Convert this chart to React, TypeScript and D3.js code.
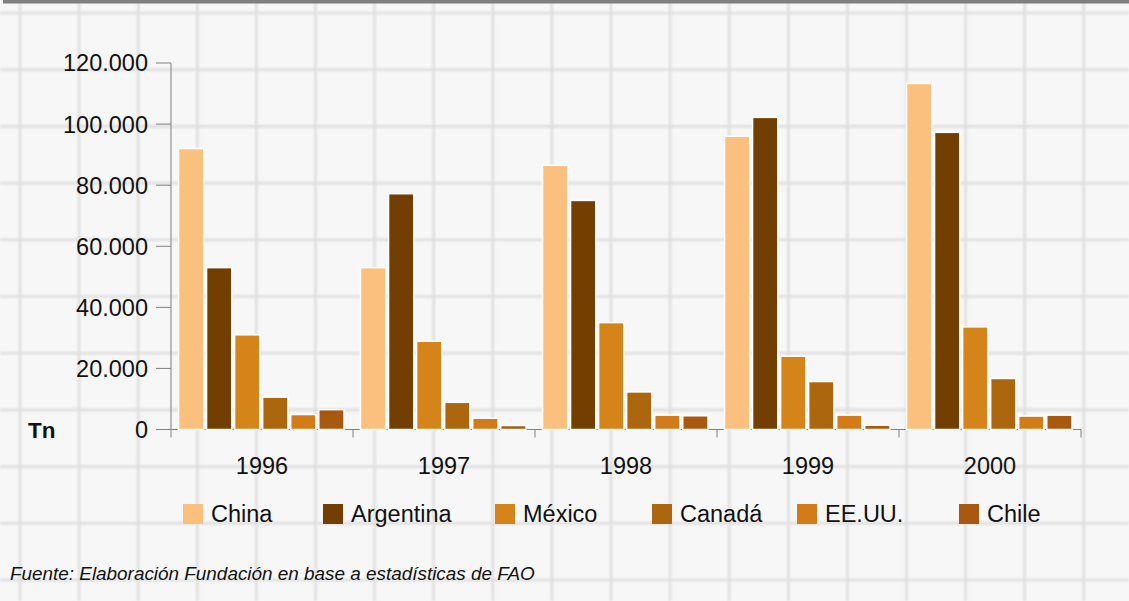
import React from "react";
import * as d3 from "d3";

const years = ["1996", "1997", "1998", "1999", "2000"];
const seriesNames = ["China", "Argentina", "México", "Canadá", "EE.UU.", "Chile"];
const china = [92000, 53000, 86500, 96000, 113300];
const argentina = [53000, 77200, 75000, 102200, 97300];
const mexico = [31000, 28900, 35000, 24000, 33600];
const canada = [10600, 8900, 12300, 15700, 16700];
const eeuu = [4900, 3700, 4700, 4700, 4400];
const chile = [6500, 1300, 4500, 1400, 4700];
const seriesValues = [china, argentina, mexico, canada, eeuu, chile];
const seriesColors = ["#FCC07E", "#733F00", "#D5841A", "#AC660D", "#D17C19", "#A9590F"];
const yTicks = [0, 20000, 40000, 60000, 80000, 100000, 120000];
const legendX = [183, 323, 495, 652, 797, 959];
const sourceText = "Fuente: Elaboración Fundación en base a estadísticas de FAO";

const W = 1129;
const H = 601;
const FONT = "'Liberation Sans', Arial, sans-serif";
const FS = 23.5;

const fmt = d3
  .formatLocale({ decimal: ",", thousands: ".", grouping: [3], currency: ["", ""] })
  .format(",d");

export default function App() {
  const x = d3.scaleBand<string>().domain(years).range([171, 1081]).padding(0);
  const xs = d3.scaleBand<string>().domain(seriesNames).range([7.5, 173]).paddingInner(0.1).paddingOuter(0);
  const y = d3.scaleLinear().domain([0, 120000]).range([429.5, 63]);

  const vLines = d3.range(0, 20).map((k) => 20 + 59.1 * k);
  const hLines = d3.range(0, 11).map((k) => 13 + 56.7 * k);

  const axisColor = "#808080";
  const y0 = y(0);

  return (
    <svg
      width={W}
      height={H}
      style={{ position: "absolute", left: 0, top: 0, display: "block" }}
      xmlns="http://www.w3.org/2000/svg"
    >
      <defs>
        <filter id="blur" x="-5%" y="-5%" width="110%" height="110%">
          <feGaussianBlur stdDeviation="1.2" />
        </filter>
      </defs>
      <rect x={0} y={0} width={W} height={H} fill="#f7f7f7" />
      <g filter="url(#blur)" stroke="#cdcdcd" strokeWidth={2.6} opacity={0.6}>
        {vLines.map((vx, i) => (
          <line key={"v" + i} x1={vx} x2={vx} y1={0} y2={H} />
        ))}
        {hLines.map((hy, i) => (
          <line key={"h" + i} x1={0} x2={W} y1={hy} y2={hy} />
        ))}
      </g>
      <rect x={3} y={0} width={W - 3} height={3.5} fill="#7f7f7f" />

      {/* Y axis */}
      <line x1={171} x2={171} y1={y(120000)} y2={y0 + 8} stroke={axisColor} strokeWidth={1} />
      {yTicks.map((t) => (
        <g key={t}>
          <line x1={156} x2={171} y1={y(t)} y2={y(t)} stroke={axisColor} strokeWidth={1} />
          <text
            x={148}
            y={y(t)}
            dy="0.36em"
            textAnchor="end"
            fontFamily={FONT}
            fontSize={FS}
            fill="#111"
          >
            {fmt(t)}
          </text>
        </g>
      ))}
      <text x={28} y={y0} dy="0.36em" fontFamily={FONT} fontSize={22.5} fontWeight="bold" fill="#111">
        Tn
      </text>

      {/* X axis */}
      <line x1={171} x2={1081} y1={y0} y2={y0} stroke={axisColor} strokeWidth={1} />
      {years.map((yr) => (
        <line
          key={"t" + yr}
          x1={(x(yr) as number) + x.bandwidth()}
          x2={(x(yr) as number) + x.bandwidth()}
          y1={y0}
          y2={y0 + 8}
          stroke={axisColor}
          strokeWidth={1}
        />
      ))}
      {years.map((yr) => (
        <text
          key={"l" + yr}
          x={(x(yr) as number) + x.bandwidth() / 2}
          y={466}
          dy="0.36em"
          textAnchor="middle"
          fontFamily={FONT}
          fontSize={FS}
          fill="#111"
        >
          {yr}
        </text>
      ))}

      {/* Bars */}
      {years.map((yr, yi) => (
        <g key={"g" + yr} transform={`translate(${x(yr)},0)`}>
          {seriesNames.map((s, si) => {
            const v = seriesValues[si][yi];
            return (
              <rect
                key={s}
                x={xs(s) as number}
                y={y(v)}
                width={xs.bandwidth()}
                height={y0 - y(v)}
                fill={seriesColors[si]}
                stroke="#ffffff"
                strokeWidth={1.5}
              />
            );
          })}
        </g>
      ))}

      {/* Legend */}
      {seriesNames.map((s, si) => (
        <g key={"lg" + s} transform={`translate(${legendX[si]},504)`}>
          <rect x={0} y={0} width={20} height={20} fill={seriesColors[si]} />
          <text x={28} y={10} dy="0.36em" fontFamily={FONT} fontSize={FS} fill="#111">
            {s}
          </text>
        </g>
      ))}

      <text x={10} y={573} dy="0.36em" fontFamily={FONT} fontSize={18.9} fontStyle="italic" fill="#111">
        {sourceText}
      </text>
    </svg>
  );
}
